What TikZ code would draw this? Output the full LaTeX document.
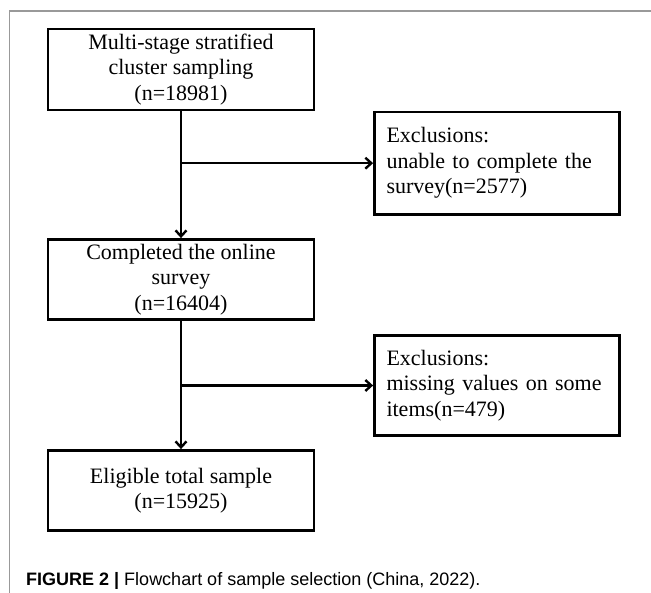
\documentclass[tikz,border=0pt]{standalone}
\usepackage{fontspec}
\setmainfont{Liberation Serif}
\newfontfamily\capfont{Liberation Sans}
\usetikzlibrary{arrows.meta}
\begin{document}
\begin{tikzpicture}[x=1pt,y=-1pt,
  box/.style={draw, line width=2.8pt, minimum width=266pt, inner sep=0pt, align=center,
    font=\fontsize{22}{25.5}\selectfont},
  exbox/.style={draw, line width=2.8pt, text width=221pt, inner xsep=12pt, inner ysep=0pt,
    align=left, font=\fontsize{22}{25.5}\selectfont},
  arr/.style={line width=2.4pt, -{Straight Barb[length=6pt,width=11pt]}},
  frame/.style={draw=black!40, line width=1.3pt}]
\useasboundingbox (0,0) rectangle (651,593);
\draw[frame] (651,11) -- (9.5,11) -- (9.5,593);

\node[box, minimum height=81pt] (b1) at (181,69.5) {Multi-stage stratified\\cluster sampling\\(n=18981)};
\node[box, minimum height=80pt] (b2) at (181,279.5) {Completed the online\\survey\\(n=16404)};
\node[box, minimum height=80pt] (b3) at (181,490.5) {Eligible total sample\\(n=15925)};
\node[exbox, minimum height=102.5pt] (e1) at (497,163.2) {Exclusions:\\unable to complete the\\survey(n=2577)};
\node[exbox, minimum height=100pt] (e2) at (497,385.5) {Exclusions:\\missing values on some\\items(n=479)};

\draw[arr] (b1.south) -- (b2.north);
\draw[arr] (b1.south |- e1.west) -- (e1.west);
\draw[arr] (b2.south) -- (b3.north);
\draw[arr] (b2.south |- e2.west) -- (e2.west);

\node[anchor=base west, inner sep=0pt, font=\capfont\fontsize{18}{20}\selectfont] (cap) at (26,585)
  {\textbf{FIGURE 2 |} Flowchart of sample selection (China, 2022).};
\end{tikzpicture}
\end{document}
